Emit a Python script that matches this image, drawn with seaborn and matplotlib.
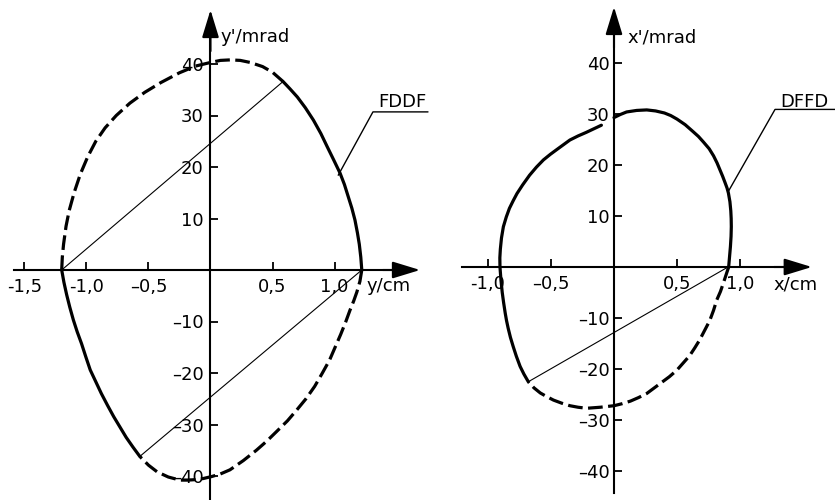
import matplotlib
matplotlib.use("Agg")
import matplotlib.pyplot as plt
import seaborn as sns

sns.set_theme(style="white")
plt.rcParams["font.family"] = ["DejaVu Sans"]
plt.rcParams["font.size"] = 13
plt.rcParams["text.color"] = "black"
plt.rcParams["xtick.color"] = "black"
plt.rcParams["ytick.color"] = "black"

# ---------------- FDDF acceptance figure (y in cm, y' in mrad) ----------------
fddf_solid_a_x = [0.585, 0.64, 0.70, 0.765, 0.83, 0.89, 0.94, 0.995, 1.045,
                  1.08, 1.11, 1.14, 1.165, 1.185, 1.20, 1.212, 1.22]
fddf_solid_a_y = [36.6, 35.2, 33.6, 31.5, 29.1, 26.5, 24.0, 21.3, 18.8,
                  16.6, 14.3, 12.0, 9.7, 7.2, 5.0, 2.5, 0.0]
fddf_dash_b_x = [1.22, 1.205, 1.18, 1.155, 1.125, 1.09, 1.05, 1.005, 0.96,
                 0.90, 0.84, 0.77, 0.695, 0.62, 0.54, 0.455, 0.37, 0.265,
                 0.157, 0.08, 0.01, -0.06, -0.12, -0.18, -0.246, -0.34,
                 -0.43, -0.50, -0.57]
fddf_dash_b_y = [0.0, -2.2, -4.3, -6.0, -7.8, -10.1, -12.5, -15.0, -17.5,
                 -20.1, -22.6, -25.0, -27.2, -29.3, -31.2, -33.2, -35.0, -37.0,
                 -38.8, -39.6, -40.1, -40.5, -40.7, -40.8, -40.8, -40.2,
                 -39.2, -37.9, -36.2]
fddf_solid_c_x = [-0.57, -0.625, -0.68, -0.73, -0.78, -0.83, -0.88, -0.925,
                  -0.97, -1.005, -1.04, -1.075, -1.106, -1.135, -1.16, -1.182,
                  -1.20]
fddf_solid_c_y = [-36.2, -34.4, -32.5, -30.5, -28.5, -26.3, -24.0, -21.7,
                  -19.4, -16.9, -14.3, -12.0, -9.7, -7.2, -4.8, -2.4, 0.0]
fddf_dash_d_x = [-1.20, -1.195, -1.185, -1.165, -1.14, -1.10, -1.05, -0.99,
                 -0.925, -0.85, -0.76, -0.65, -0.53, -0.40, -0.25, -0.12, 0.0,
                 0.08, 0.16, 0.24, 0.32, 0.42, 0.50, 0.585]
fddf_dash_d_y = [0.0, 2.5, 5.0, 8.5, 11.5, 15.0, 18.6, 22.0,
                 25.0, 27.6, 30.0, 32.4, 34.5, 36.4, 38.3, 39.6, 40.3,
                 40.7, 40.8, 40.7, 40.3, 39.5, 38.4, 36.6]
fddf_chords_x = [[-1.20, 0.585], [-0.57, 1.22]]
fddf_chords_y = [[0.0, 36.6], [-36.2, 0.0]]

# ---------------- DFFD acceptance figure (x in cm, x' in mrad) ----------------
dffd_solid_top_x = [0.0, 0.05, 0.10, 0.18, 0.26, 0.33, 0.40, 0.45, 0.50, 0.565,
                    0.625, 0.67, 0.71, 0.755, 0.79, 0.818, 0.84, 0.862, 0.882,
                    0.897, 0.908, 0.92, 0.927, 0.93, 0.931, 0.929, 0.924,
                    0.917, 0.91]
dffd_solid_top_y = [29.3, 29.9, 30.4, 30.7, 30.8, 30.6, 30.2, 29.7, 29.0, 27.9,
                    26.6, 25.6, 24.5, 23.2, 21.8, 20.4, 19.1, 17.8, 16.5,
                    15.5, 14.5, 12.8, 11.0, 9.5, 7.9, 6.0, 4.0, 2.0,
                    0.0]
dffd_dash_x = [0.91, 0.89, 0.87, 0.845, 0.815, 0.79, 0.76, 0.72, 0.68, 0.64,
               0.60, 0.55, 0.50, 0.44, 0.38, 0.32, 0.26, 0.195, 0.13, 0.065,
               0.0, -0.11, -0.217, -0.285, -0.35, -0.415, -0.48, -0.535,
               -0.585, -0.635, -0.68]
dffd_dash_y = [0.0, -1.5, -3.0, -4.8, -6.5, -8.5, -10.5, -12.4, -14.3, -15.9,
               -17.4, -18.8, -20.2, -21.5, -22.6, -23.7, -24.8, -25.6, -26.3,
               -26.8, -27.2, -27.5, -27.7, -27.5, -27.2, -26.7, -26.1, -25.4,
               -24.7, -23.7, -22.5]
dffd_solid_left_x = [-0.68, -0.715, -0.745, -0.775, -0.80, -0.822, -0.84,
                     -0.853, -0.863, -0.876, -0.887, -0.897, -0.905, -0.906,
                     -0.902, -0.893, -0.878, -0.855, -0.83, -0.80, -0.77,
                     -0.725, -0.67, -0.615, -0.56, -0.505, -0.45, -0.40,
                     -0.35, -0.285, -0.22, -0.16, -0.10]
dffd_solid_left_y = [-22.5, -21.0, -19.5, -17.5, -15.6, -13.8, -12.0,
                     -10.5, -9.1, -7.0, -5.0, -2.6, 0.0, 1.8,
                     3.5, 5.7, 7.9, 9.8, 11.5, 13.0, 14.4,
                     16.1, 18.0, 19.6, 21.0, 22.1, 23.1, 24.0,
                     24.9, 25.7, 26.4, 27.1, 27.8]
dffd_chord_x = [-0.68, 0.905]
dffd_chord_y = [-22.5, 0.0]

# ---------------- axis ticks and labels ----------------
left_xticks = [-1.5, -1.0, -0.5, 0.5, 1.0]
left_xlabels = ["-1,5", "-1,0", "\u20130,5", "0,5", "1,0"]
right_xticks = [-1.0, -0.5, 0.5, 1.0]
right_xlabels = ["-1,0", "\u20130,5", "0,5", "1,0"]
yticks = [-40, -30, -20, -10, 10, 20, 30, 40]
ylabels = ["\u201340", "\u201330", "\u201320", "\u201310", "10", "20", "30", "40"]

CURVE_LW = 2.3
DASH = (0, (4.6, 1.7))

fig = plt.figure(figsize=(8.35, 5.0), dpi=100)
ax_l = fig.add_axes([0.0, 0.0, 430 / 835, 1.0])
ax_r = fig.add_axes([430 / 835, 0.0, 405 / 835, 1.0])


def setup_axes(ax, xlim, ylim, x_start, x_tip, y_bottom, y_tip,
               xt, xl, ylab_pad):
    ax.set_facecolor("none")
    ax.set_xlim(*xlim)
    ax.set_ylim(*ylim)
    for side in ("top", "right"):
        ax.spines[side].set_visible(False)
    for side in ("left", "bottom"):
        ax.spines[side].set_position(("data", 0))
        ax.spines[side].set_color("black")
        ax.spines[side].set_linewidth(1.5)
    ax.spines["bottom"].set_bounds(x_start, x_tip - 0.05)
    ax.spines["left"].set_bounds(y_bottom, y_tip - 2)
    ax.set_xticks(xt, xl)
    ax.set_yticks(yticks, ylabels)
    ax.tick_params(axis="x", direction="in", length=6, width=1.3,
                   pad=6, labelsize=13, colors="black", bottom=True)
    ax.tick_params(axis="y", direction="in", length=6, width=1.3,
                   pad=ylab_pad, labelsize=13, colors="black", left=True)
    ax.grid(False)
    head = "-|>,head_length=0.85,head_width=0.26"
    ax.annotate("", xy=(x_tip, 0), xytext=(x_tip - 0.3, 0),
                arrowprops=dict(arrowstyle=head, color="black", lw=1.5,
                                mutation_scale=20, shrinkA=0, shrinkB=0))
    ax.annotate("", xy=(0, y_tip), xytext=(0, y_tip - 8),
                arrowprops=dict(arrowstyle=head, color="black", lw=1.5,
                                mutation_scale=20, shrinkA=0, shrinkB=0))


def curve(ax, xs, ys, dashed=False, lw=CURVE_LW):
    kw = dict(linestyle=DASH, dash_capstyle="butt", dash_joinstyle="round") \
        if dashed else dict(linestyle="-", solid_capstyle="round",
                            solid_joinstyle="round")
    sns.lineplot(x=xs, y=ys, sort=False, estimator=None, color="black",
                 linewidth=lw, ax=ax, **kw)


# left panel: FDDF
setup_axes(ax_l, (-210.5 / 124, 219.5 / 124), (-230 / 5.15, 270 / 5.15),
           -1.585, 1.69, -44.7, 50.5, left_xticks, left_xlabels, 5)
curve(ax_l, fddf_solid_a_x, fddf_solid_a_y)
curve(ax_l, fddf_dash_b_x, fddf_dash_b_y, dashed=True)
curve(ax_l, fddf_solid_c_x, fddf_solid_c_y)
curve(ax_l, fddf_dash_d_x, fddf_dash_d_y, dashed=True)
for cx, cy in zip(fddf_chords_x, fddf_chords_y):
    curve(ax_l, cx, cy, lw=0.8)
ax_l.plot([1.03, 1.31, 1.754], [18.4, 30.7, 30.7], color="black", lw=1.0)
ax_l.text(1.545, 31.6, "FDDF", ha="center", va="baseline", fontsize=13)
ax_l.text(0.077, 44.3, "y'/mrad", ha="left", va="baseline", fontsize=13)
ax_l.text(1.26, -4.1, "y/cm", ha="left", va="baseline", fontsize=13)

# right panel: DFFD
setup_axes(ax_r, (-184 / 126, 221 / 126), (-233 / 5.1, 267 / 5.1),
           -1.21, 1.57, -44.3, 51.0, right_xticks, right_xlabels, 3)
curve(ax_r, dffd_solid_top_x, dffd_solid_top_y)
curve(ax_r, dffd_dash_x, dffd_dash_y, dashed=True)
curve(ax_r, dffd_solid_left_x, dffd_solid_left_y)
curve(ax_r, dffd_chord_x, dffd_chord_y, lw=0.8)
ax_r.plot([0.907, 1.278, 1.754], [14.8, 30.9, 30.9], color="black", lw=1.0)
ax_r.text(1.508, 31.4, "DFFD", ha="center", va="baseline", fontsize=13)
ax_r.text(0.11, 44.1, "x'/mrad", ha="left", va="baseline", fontsize=13)
ax_r.text(1.262, -4.5, "x/cm", ha="left", va="baseline", fontsize=13)

for ax in (ax_l, ax_r):
    ax.set_xlabel("")
    ax.set_ylabel("")

fig.savefig("out.png", dpi=100, facecolor="white")
